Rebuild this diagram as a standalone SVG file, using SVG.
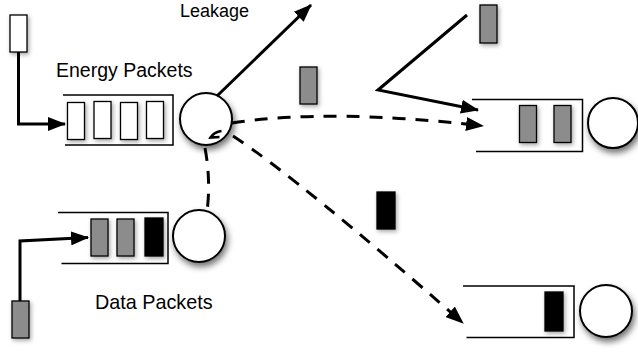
<svg xmlns="http://www.w3.org/2000/svg" width="638" height="354" viewBox="0 0 638 354">
<style>
  .q { fill: none; stroke: #000; stroke-width: 1.5; }
  .pw { fill: #fff; stroke: #000; stroke-width: 1.3; }
  .pg { fill: #8c8c8c; stroke: #000; stroke-width: 1.3; }
  .pb { fill: #000; stroke: #000; stroke-width: 1.3; }
  .c { fill: #fff; stroke: #000; stroke-width: 2; filter: url(#sh); }
  .a { fill: none; stroke: #000; stroke-width: 3; }
  .d { fill: none; stroke: #000; stroke-width: 3; stroke-dasharray: 13 10; }
  .t { font-family: "Liberation Sans", Arial, sans-serif; fill: #000; }
</style>
<defs>
  <filter id="sh" x="-40%" y="-40%" width="190%" height="190%">
    <feDropShadow dx="2" dy="4" stdDeviation="3" flood-color="#000" flood-opacity="0.55"/>
  </filter>
  <filter id="shp" x="-50%" y="-30%" width="220%" height="170%">
    <feDropShadow dx="1.5" dy="2" stdDeviation="2" flood-color="#000" flood-opacity="0.35"/>
  </filter>
  <marker id="ah" viewBox="0 0 18 14" refX="17" refY="7" markerWidth="18" markerHeight="14" markerUnits="userSpaceOnUse" orient="auto">
    <path d="M0,0 L18,7 L0,14 Z" fill="#000"/>
  </marker>
</defs>

<g id="energy-source">
  <rect class="pw" x="10" y="15" width="17" height="37" filter="url(#shp)"/>
</g>
<g id="data-source">
  <rect class="pg" x="12" y="301" width="17" height="37" filter="url(#shp)"/>
</g>

<g id="energy-queue">
  <path class="q" d="M63 95 H173 V145 H65"/>
  <rect class="pw" x="67.5" y="102.5" width="17" height="37" filter="url(#shp)"/>
  <rect class="pw" x="94" y="101.5" width="17" height="37" filter="url(#shp)"/>
  <rect class="pw" x="120.5" y="102.5" width="17" height="37" filter="url(#shp)"/>
  <rect class="pw" x="146.5" y="101.5" width="17" height="37" filter="url(#shp)"/>
  <text class="t" x="56" y="77" font-size="19.5">Energy Packets</text>
</g>

<g id="energy-node">
  <circle class="c" cx="206" cy="119" r="26"/>
</g>

<g id="data-queue">
  <path class="q" d="M58 212.5 H168 V263.5 H61.5"/>
  <rect class="pg" x="91" y="219" width="17" height="37" filter="url(#shp)"/>
  <rect class="pg" x="117" y="219" width="17" height="37" filter="url(#shp)"/>
  <rect class="pb" x="145" y="218" width="18" height="38" filter="url(#shp)"/>
  <text class="t" x="95" y="309" font-size="19.8">Data Packets</text>
</g>

<g id="data-node">
  <circle class="c" cx="199" cy="236" r="26"/>
</g>

<g id="leak-label">
  <text class="t" x="180" y="16.5" font-size="18">Leakage</text>
</g>

<g id="packet-mid-gray">
  <rect class="pg" x="300" y="67" width="17" height="37" filter="url(#shp)"/>
</g>
<g id="packet-top-gray">
  <rect class="pg" x="480" y="5" width="17" height="38" filter="url(#shp)"/>
</g>
<g id="packet-mid-black">
  <rect class="pb" x="377" y="192" width="18" height="37" filter="url(#shp)"/>
</g>

<g id="queue-right-top">
  <path class="q" d="M472 99.5 H582.5 V151.5 H476"/>
  <rect class="pg" x="519.5" y="105.5" width="17" height="37" filter="url(#shp)"/>
  <rect class="pg" x="554" y="105.5" width="17" height="37" filter="url(#shp)"/>
</g>
<g id="node-right-top">
  <circle class="c" cx="613" cy="123" r="25"/>
</g>

<g id="queue-right-bottom">
  <path class="q" d="M463 286 H574 V337.5 H466.5"/>
  <rect class="pb" x="545" y="292" width="18" height="39" filter="url(#shp)"/>
</g>
<g id="node-right-bottom">
  <circle class="c" cx="606" cy="311" r="26"/>
</g>

<g id="connectors">
  <path class="a" d="M18.5 52 V124 H65" marker-end="url(#ah)"/>
  <path class="a" d="M20 301 V241 L88 237.5" marker-end="url(#ah)"/>
  <path class="a" d="M217 96 L311 5" marker-end="url(#ah)"/>
  <path class="a" d="M467 15 L378 90 L478 110" marker-end="url(#ah)"/>
  <path class="d" d="M232 123 Q330 108 483 126" marker-end="url(#ah)"/>
  <path class="d" d="M233 136 Q300 180 463 323" marker-end="url(#ah)"/>
  <path class="d" d="M205 148 Q211 180 207 212" stroke-width="4"/>
  <path d="M221.5 131 Q214 132 210.5 137.5 L219.5 137" fill="none" stroke="#000" stroke-width="2.5"/>
</g>
</svg>
